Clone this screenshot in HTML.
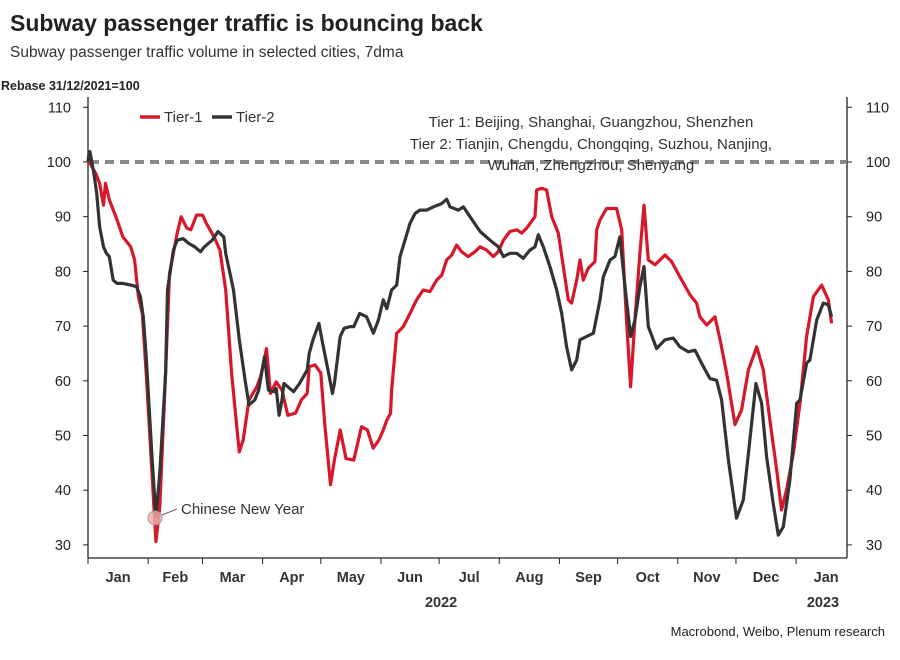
<!DOCTYPE html>
<html><head><meta charset="utf-8"><style>
body{margin:0;background:#fff;font-family:"Liberation Sans",sans-serif}
svg text{font-family:"Liberation Sans",sans-serif}
</style></head><body>
<svg id="chart" width="900" height="655" viewBox="0 0 900 655">
<text x="10" y="31" font-size="23" font-weight="bold" fill="#222">Subway passenger traffic is bouncing back</text>
<text x="10" y="57" font-size="15.5" fill="#333">Subway passenger traffic volume in selected cities, 7dma</text>
<text x="1" y="90" font-size="12.5" font-weight="bold" fill="#222">Rebase 31/12/2021=100</text>
<g id="axes"></g>
<g id="series"></g>
<g>
<line x1="140" y1="117" x2="160" y2="117" stroke="#d7182a" stroke-width="3.5"/>
<text x="164" y="122" font-size="15" fill="#333">Tier-1</text>
<line x1="212" y1="117" x2="232" y2="117" stroke="#333" stroke-width="3.5"/>
<text x="236" y="122" font-size="15" fill="#333">Tier-2</text>
</g>
<g font-size="15" fill="#333" text-anchor="middle">
<text x="591" y="127">Tier 1: Beijing, Shanghai, Guangzhou, Shenzhen</text>
<text x="591" y="149">Tier 2: Tianjin, Chengdu, Chongqing, Suzhou, Nanjing,</text>
<text x="591" y="170">Wuhan, Zhengzhou, Shenyang</text>
</g>
<g>
<circle cx="155" cy="518" r="7" fill="#f2b0a8" fill-opacity="0.8" stroke="#999" stroke-width="1"/>
<line x1="162" y1="515" x2="177" y2="509" stroke="#666" stroke-width="1"/>
<text x="181" y="514" font-size="15" fill="#333">Chinese New Year</text>
</g>
<text x="885" y="636" font-size="13" fill="#222" text-anchor="end">Macrobond, Weibo, Plenum research</text>
</svg>
<script>
const yTicks=[30,40,50,60,70,80,90,100,110];
const monthLabels=["Jan","Feb","Mar","Apr","May","Jun","Jul","Aug","Sep","Oct","Nov","Dec","Jan"];
const monthStartDays=[0,31,59,90,120,151,181,212,243,273,304,334,365,396];
const baseline=[100];
const tier1Days=[0,1,4,6,8,9,11,15,18,22,24,26,28,30,33,35,37,40,42,46,48,51,53,56,59,61,65,68,71,74,77,78,80,83,87,89,92,94,97,100,103,107,110,113,114,117,120,122,125,127,130,133,137,141,144,147,150,152.2,154,156,156.5,159.1,162.5,166,169.4,172.8,176.3,179.7,182.3,184.9,187.5,190,192.6,196,199.5,202.1,205.5,208.9,211.5,214.1,217.5,221,223.5,226.1,230.4,231.3,233.8,236.4,239,242.4,245,247.6,249.3,251.9,253.6,255.3,257.9,261.3,262.2,263.9,267.3,272.5,275.1,277.6,279.7,281.9,284.5,286.6,288.8,292.3,297.4,300.8,305.1,310.3,313.7,315.4,318.9,323.2,325.8,329.2,333.5,336.9,340.4,344.7,348.1,351.5,355,357.5,360.1,363.6,367,370.4,373.9,378.2,381.6,383.3];
const tier1Values=[100,99.8,97.9,96.1,92.1,96.1,93.1,89.4,86.3,84.5,82.1,75.4,72.3,61.4,43.1,30.6,37,61.4,79.6,87,90,87.9,87.6,90.3,90.3,88.8,86.3,83.9,76.6,61.4,50.4,47,49.2,56.5,58.9,60.8,65.9,57.7,59.8,58.3,53.7,54.1,56.5,57.7,62.6,62.9,61.4,52.2,41,45.5,51,45.8,45.5,51.6,51,47.7,49.2,51,52.8,54.1,58.3,68.7,69.9,72.3,74.8,76.6,76.3,78.4,79.3,82.1,83,84.8,83.6,82.7,83.6,84.5,83.9,82.7,83.6,85.7,87.3,87.6,87,87.9,90,94.9,95.2,94.9,90,87,80.9,74.8,74.2,78.4,82.1,78.4,80.6,81.8,87.6,89.4,91.5,91.5,87.6,71.1,58.9,71.1,83.3,92.1,82.1,81.2,83,81.8,79,75.7,74.2,71.7,70.2,71.7,67.5,61.4,52,54.7,62,66.2,62,52.8,43.7,36.4,40.1,46.8,55.9,68.1,75.4,77.5,74.8,70.5];
const tier2Days=[0,0.5,1,3,4.5,6,8,9.5,11,13,15,18,22,25,27,28.5,30,33,35,37,40,41,44,46,49,52,55,58,60,64,67,70,71,75,78,81,83,86,88,91,93,96,97,98.5,100,101,103,106,109,113,114,116,119,121,124,126,127,130,132,135,137,140,143.6,147.1,149.7,152.2,154,156.5,159.1,160.8,163.4,166,168.6,171.1,174.6,178,182.3,184.9,186.6,190.9,193.5,196.9,202.1,207.2,211.5,214.1,217.5,221,224.4,227.8,230.4,232.1,234.7,238.1,241.6,244.2,246.7,249.3,251.9,253.6,257,260.5,263.9,265.6,269.1,271.6,274.2,276.8,279.7,281.9,284.5,286.6,288.8,293.1,297.4,301.7,305.1,309.4,312.9,316.3,320.6,324,326.6,330.1,334.3,337.8,340.4,344.3,347.2,349.8,353.2,355.8,358.4,361.8,365.3,367,370.4,372.1,375.6,379,381.6,383.3];
const tier2Values=[100,101.6,101.9,98,94.3,88.2,84.5,83.3,82.7,78.4,77.8,77.8,77.5,77.2,75.4,71.7,64.4,46.1,35.2,43.1,61.4,76.6,83.9,85.7,86,85.1,84.5,83.6,84.5,85.7,87.3,86.3,83.3,76.6,67.5,60.1,55.6,56.5,58.3,64.4,58.3,58,58.6,53.7,56.5,59.5,58.9,58,59.5,62,65,67.5,70.5,66.8,61.4,57.7,59.5,68.1,69.6,69.9,69.9,72.3,71.7,68.7,71.1,74.8,73.2,76.6,77.5,82.7,85.7,88.8,90.6,91.2,91.2,91.8,92.4,93.2,91.8,91.2,91.8,90,87.3,85.7,84.5,82.7,83.3,83.3,82.4,83.9,84.5,86.7,84.5,80.9,76.6,72.3,66.2,62,63.8,67.5,68.1,68.7,74.8,79,82.1,82.7,86.3,77.2,68.1,71.1,77.2,80.9,69.9,65.9,67.5,67.8,66.2,65.3,65.6,63.2,60.4,60.1,56.5,45.5,34.9,38.2,46.7,59.5,55.9,46.1,37.6,31.8,33.3,41.9,55.9,56.5,63.2,63.8,71.1,74.2,73.9,71.7];

const NS="http://www.w3.org/2000/svg";
const X0=88,X1=847,PXD=1.94;
function xs(d){return X0+d*PXD;}
function ys(v){return 162+(100-v)*5.47;}
function mk(tag,attrs,parent){const e=document.createElementNS(NS,tag);for(const k in attrs)e.setAttribute(k,attrs[k]);parent.appendChild(e);return e;}
const ax=document.getElementById('axes');
let l=mk('line',{x1:X0,y1:97,x2:X0,y2:558,stroke:'#222','stroke-width':1.3},ax);


l=mk('line',{x1:X1,y1:97,x2:X1,y2:558,stroke:'#222','stroke-width':1.3},ax);


l=mk('line',{x1:X0,y1:558,x2:X1,y2:558,stroke:'#222','stroke-width':1.3},ax);


yTicks.forEach(v=>{
  const y=ys(v);
  mk('line',{x1:X0-5,y1:y,x2:X0,y2:y,stroke:'#222'},ax);
  mk('line',{x1:X1,y1:y,x2:X1+5,y2:y,stroke:'#222'},ax);
  let t=mk('text',{x:71,y:y+5,'font-size':14.5,'text-anchor':'end',fill:'#222'},ax);t.textContent=v;
  
  
  t=mk('text',{x:866,y:y+5,'font-size':14.5,fill:'#222'},ax);t.textContent=v;
  
  
});
monthStartDays.forEach((d,i)=>{
  if(xs(d)<=X1) mk('line',{x1:xs(d),y1:558,x2:xs(d),y2:564,stroke:'#222'},ax);
  if(i<monthLabels.length){
    const mid=(d+monthStartDays[i+1])/2;
    const t=mk('text',{x:xs(mid),y:582,'font-size':14.5,'font-weight':'bold','text-anchor':'middle',fill:'#333'},ax);
    t.textContent=monthLabels[i];
    
    
  }
});
let yr=mk('text',{x:xs(182),y:607,'font-size':14.5,'font-weight':'bold','text-anchor':'middle',fill:'#333'},ax);yr.textContent='2022';


yr=mk('text',{x:823,y:607,'font-size':14.5,'font-weight':'bold','text-anchor':'middle',fill:'#333'},ax);yr.textContent='2023';


const sg=document.getElementById('series');
let b=mk('line',{x1:X0+2,y1:ys(baseline[0]),x2:X1,y2:ys(baseline[0]),stroke:'#8a8a8a','stroke-width':4,'stroke-dasharray':'9,6'},sg);


function path(days,vals,color,name){
  const d=days.map((dd,i)=>(i?'L':'M')+xs(dd).toFixed(1)+','+ys(vals[i]).toFixed(1)).join('');
  const p=mk('path',{d:d,fill:'none',stroke:color,'stroke-width':3.2,'stroke-linejoin':'round'},sg);
  
  
}
path(tier1Days,tier1Values,'#d7182a','tier1-line');
path(tier2Days,tier2Values,'#333333','tier2-line');
</script>
</body></html>
